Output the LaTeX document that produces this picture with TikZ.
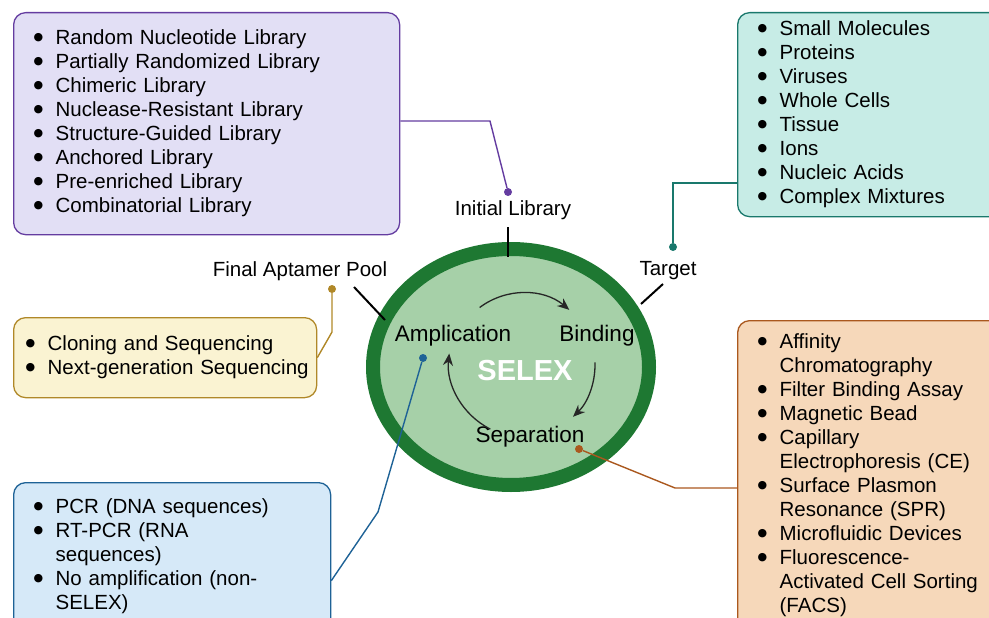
\documentclass[tikz,border=0pt]{standalone}
\usepackage{fontspec}
\setmainfont{Liberation Sans}
\newfontfamily\symfont{DejaVu Sans}
\usetikzlibrary{shapes.geometric,arrows.meta}

\definecolor{libfill}{RGB}{226,223,245}
\definecolor{libline}{RGB}{100,60,160}
\definecolor{tgtfill}{RGB}{199,236,230}
\definecolor{tgtline}{RGB}{25,120,108}
\definecolor{poolfill}{RGB}{250,243,210}
\definecolor{poolline}{RGB}{176,136,40}
\definecolor{ampfill}{RGB}{214,233,248}
\definecolor{ampline}{RGB}{30,98,150}
\definecolor{sepfill}{RGB}{246,216,186}
\definecolor{sepline}{RGB}{170,88,30}
\definecolor{ringgreen}{RGB}{30,120,50}
\definecolor{innergreen}{RGB}{166,208,168}

\newcommand{\bul}{\makebox[22pt][l]{\raisebox{4.5pt}{\symfont\fontsize{11}{11}\selectfont ●}}}
\newcommand{\hang}{\hspace*{22pt}}

\tikzset{
  listbox/.style={rectangle, rounded corners=12pt, line width=1.3pt, anchor=north west,
    align=left, inner xsep=20pt, inner ysep=0pt, font=\fontsize{20.5}{24}\selectfont},
  conn/.style={line width=1.4pt},
  tick/.style={line width=2pt, black},
  dot/.style={circle, inner sep=0pt, minimum size=8pt},
  lbl/.style={font=\fontsize{20.5}{24}\selectfont},
  steplbl/.style={font=\fontsize{22.5}{26}\selectfont},
  cyc/.style={-{Stealth[length=12pt,width=10pt]}, line width=1.3pt, black!85},
}

\begin{document}
\begin{tikzpicture}[x=1pt,y=1pt]
\useasboundingbox (0,0) rectangle (989,-618);
\clip (0,0) rectangle (989,-618);

% SELEX ring
\node[ellipse, draw=ringgreen, line width=14pt, fill=innergreen,
  minimum width=276pt, minimum height=236pt, inner sep=0pt] (selex) at (511,-367) {};

% list boxes
\node[listbox, draw=libline, fill=libfill, minimum width=386pt, minimum height=222pt,
  text width=346pt] (libbox) at (13,-12)
  {\bul Random Nucleotide Library\\ \bul Partially Randomized Library\\
   \bul Chimeric Library\\ \bul Nuclease-Resistant Library\\
   \bul Structure-Guided Library\\ \bul Anchored Library\\
   \bul Pre-enriched Library\\ \bul Combinatorial Library};

\node[listbox, draw=tgtline, fill=tgtfill, minimum width=270pt, minimum height=204pt,
  text width=230pt] (tgtbox) at (737,-12)
  {\bul Small Molecules\\ \bul Proteins\\ \bul Viruses\\ \bul Whole Cells\\
   \bul Tissue\\ \bul Ions\\ \bul Nucleic Acids\\ \bul Complex Mixtures};

\node[listbox, draw=poolline, fill=poolfill, minimum width=303pt, minimum height=80pt,
  inner xsep=12pt, text width=279pt] (poolbox) at (13,-317)
  {\bul Cloning and Sequencing\\ \bul \mbox{Next-generation Sequencing}};

\node[listbox, draw=ampline, fill=ampfill, minimum width=317pt, minimum height=148pt,
  text width=277pt] (ampbox) at (13,-482)
  {\bul PCR (DNA sequences)\\ \bul RT-PCR (RNA\\ \hang sequences)\\
   \bul No amplification (non-\\ \hang SELEX)};

\node[listbox, draw=sepline, fill=sepfill, minimum width=270pt, minimum height=310pt,
  text width=230pt] (sepbox) at (737,-320)
  {\bul Affinity\\ \hang Chromatography\\ \bul Filter Binding Assay\\
   \bul Magnetic Bead\\ \bul Capillary\\ \hang Electrophoresis (CE)\\
   \bul Surface Plasmon\\ \hang Resonance (SPR)\\ \bul Microfluidic Devices\\
   \bul Fluorescence-\\ \hang Activated Cell Sorting\\ \hang (FACS)};

% labels round the ring
\node[lbl] (libtxt) at (513,-210) {Initial Library};
\node[lbl] (tgttxt) at (668,-271) {Target};
\node[lbl] (pooltxt) at (300,-271) {Final Aptamer Pool};

\coordinate (libtickA) at (508,-227);
\coordinate (libtickB) at (508,-257);
\coordinate (tgttickA) at (663,-284);
\coordinate (tgttickB) at (641,-304);
\coordinate (pooltickA) at (354,-287);
\coordinate (pooltickB) at (385,-320);
\draw[tick] (libtickA) -- (libtickB);
\draw[tick] (tgttickA) -- (tgttickB);
\draw[tick] (pooltickA) -- (pooltickB);

% steps inside the ring
\node[steplbl] (amptxt) at (453,-336) {Amplication};
\node[steplbl] (bindtxt) at (597,-336) {Binding};
\node[steplbl] (septxt) at (530,-437) {Separation};
\node[font=\fontsize{29}{34}\selectfont\bfseries, text=white] (selextxt) at (525,-371) {SELEX};

% cycle arrows
\coordinate (cyc) at (523,-365);
\draw[cyc] (cyc) ++(127:72) arc[start angle=127, end angle=50, radius=72];
\draw[cyc] (cyc) ++(2:72) arc[start angle=2, end angle=-46, radius=72];
\draw[cyc] (cyc) ++(243:72) arc[start angle=243, end angle=174, radius=76];

% connectors
\node[dot, fill=libline] (libdot) at (508,-192) {};
\coordinate (libkink) at (490,-121);
\draw[conn, libline] (libbox.east |- libkink) -- (libkink) -- (libdot);

\node[dot, fill=tgtline] (tgtdot) at (673,-247) {};
\coordinate (tgtkink) at (673,-183);
\draw[conn, tgtline] (tgtbox.west |- tgtkink) -- (tgtkink) -- (tgtdot);

\node[dot, fill=poolline] (pooldot) at (332,-289) {};
\coordinate (poolkink) at (332,-332);
\draw[conn, poolline] (pooldot) -- (poolkink) -- (poolbox.east);

\node[dot, fill=ampline] (ampdot) at (423,-358) {};
\coordinate (ampkink) at (378,-512);
\draw[conn, ampline] (ampdot) -- (ampkink) -- ([yshift=-24pt]ampbox.east);

\node[dot, fill=sepline] (sepdot) at (579,-449) {};
\coordinate (sepkink) at (675,-488);
\draw[conn, sepline] (sepdot) -- (sepkink) -- (sepkink -| sepbox.west);

\end{tikzpicture}
\end{document}
